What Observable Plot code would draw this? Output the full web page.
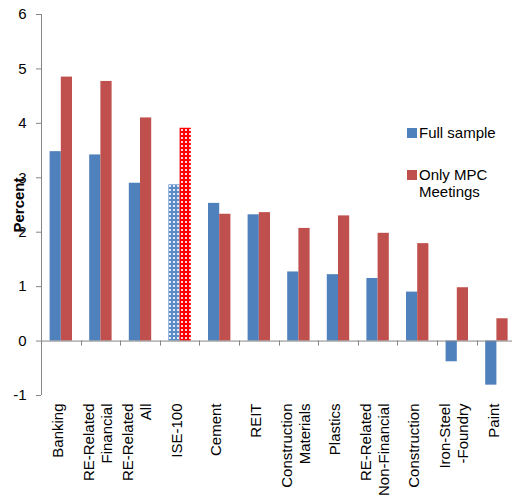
<!DOCTYPE html>
<html>
<head>
<meta charset="utf-8">
<script src="https://cdn.jsdelivr.net/npm/d3@7"></script>
<script src="https://cdn.jsdelivr.net/npm/@observablehq/plot@0.6"></script>
<style>
  html, body { margin: 0; padding: 0; background: #fff; overflow: hidden; }
  #chart { position: relative; width: 512px; height: 499px; overflow: hidden; font-family: "Liberation Sans", Arial, sans-serif; }
  #chart svg { display: block; }
  .legend { position: absolute; left: 407px; font-size: 15px; color: #000; line-height: 16.5px; }
  .legend .swatch { position: absolute; left: 0; width: 10px; height: 10px; }
  .legend .label { position: absolute; left: 12px; white-space: nowrap; }
</style>
</head>
<body>
<div id="chart"></div>
<script>
// Sectors, in the order they are plotted
const categories = [
  "Banking",
  "RE-Related\nFinancial",
  "RE-Related\nAll",
  "ISE-100",
  "Cement",
  "REIT",
  "Construction\nMaterials",
  "Plastics",
  "RE-Related\nNon-Financial",
  "Construction",
  "Iron-Steel\n-Foundry",
  "Paint"
];
// Response in percent, full sample
const fullSample = [3.48, 3.42, 2.90, 2.87, 2.53, 2.32, 1.27, 1.22, 1.15, 0.90, -0.38, -0.81];
// Response in percent, MPC meeting days only
const mpcOnly = [4.85, 4.77, 4.10, 3.91, 2.33, 2.36, 2.07, 2.30, 1.98, 1.79, 0.98, 0.41];
// Value axis ticks
const yTicks = [-1, 0, 1, 2, 3, 4, 5, 6];
// Series names
const seriesNames = ["Full sample", "Only MPC\nMeetings"];
// The market index is drawn with a dotted fill
const highlighted = "ISE-100";

const blue = "#4F81BD";
const red = "#C0504D";
const axisGray = "#868686";

const rows = categories.map((cat, i) => ({cat, full: fullSample[i], mpc: mpcOnly[i]}));

const bandStep = 39.6;
const plotLeft = 41;
// blue bar sits left of band centre, red bar right of it
const barOuter = 8.6;
const half = bandStep / 2;

// axis lines and category separator ticks, placed through the scales
function axisLines(index, scales) {
  const g = d3.create("svg:g").attr("stroke", axisGray).attr("stroke-width", 1);
  const [y0, y1] = [scales.y(yTicks[0]), scales.y(yTicks[yTicks.length - 1])];
  const x0 = scales.x(categories[0]);
  g.append("line").attr("x1", x0 + 0.5).attr("x2", x0 + 0.5).attr("y1", y1).attr("y2", y0);
  const zero = scales.y(0);
  const step = scales.x(categories[1]) - scales.x(categories[0]);
  const bounds = categories.map(c => scales.x(c)).concat([scales.x(categories[categories.length - 1]) + step]);
  for (const b of bounds.slice(1)) {
    const bx = Math.round(b) + 0.5;
    g.append("line").attr("x1", bx).attr("x2", bx).attr("y1", zero).attr("y2", zero + 5);
  }
  return g.node();
}

const plot = Plot.plot({
  width: 512,
  height: 499,
  marginTop: 14,
  marginBottom: 104,
  marginLeft: plotLeft,
  marginRight: 0,
  style: {fontFamily: "'Liberation Sans', Arial, sans-serif", fontSize: "15px", background: "#fff", color: "#000", overflow: "visible"},
  x: {type: "band", domain: categories, range: [plotLeft, plotLeft + bandStep * categories.length], padding: 0, round: false, axis: null},
  y: {domain: [-1, 6], axis: null},
  marks: [
    Plot.barY(rows, {filter: d => d.cat !== highlighted, x: "cat", y: "full", fill: blue, insetLeft: barOuter, insetRight: half}),
    Plot.barY(rows, {filter: d => d.cat !== highlighted, x: "cat", y: "mpc", fill: red, insetLeft: half, insetRight: barOuter}),
    Plot.barY(rows, {filter: d => d.cat === highlighted, x: "cat", y: "full", fill: "url(#dotsBlue)", insetLeft: barOuter, insetRight: half}),
    Plot.barY(rows, {filter: d => d.cat === highlighted, x: "cat", y: "mpc", fill: "url(#dotsRed)", insetLeft: half, insetRight: barOuter}),
    Plot.ruleY([0], {stroke: axisGray}),
    axisLines,
    Plot.axisY({ticks: yTicks, tickFormat: d => String(d), tickSize: 5, tickPadding: 10, stroke: axisGray, fill: "#000", fontSize: 15, label: null}),
    Plot.text(categories, {x: d => d, frameAnchor: "bottom", dx: -4, dy: 8, rotate: -90, textAnchor: "end", lineAnchor: "middle", lineHeight: 1.2, fontSize: 15, fill: "#000"}),
    Plot.text(["Percent"], {frameAnchor: "left", dx: -22, rotate: -90, textAnchor: "middle", fontWeight: "bold", fontSize: 15, fill: "#000"})
  ]
});

// dotted fills for the highlighted pair
const defs = d3.select(plot).insert("defs", ":first-child");
function dots(id, base, dot) {
  const p = defs.append("pattern").attr("id", id).attr("patternUnits", "userSpaceOnUse")
    .attr("width", 4).attr("height", 4);
  p.append("rect").attr("width", 4).attr("height", 4).attr("fill", base);
  p.append("rect").attr("x", 1).attr("y", 1).attr("width", 2).attr("height", 2).attr("fill", dot);
}
dots("dotsBlue", "#5b8cc6", "#e3ecf7");
dots("dotsRed", "#ff0000", "#ffd6d6");

const chart = document.getElementById("chart");
chart.appendChild(plot);

// legend
const legendItems = [
  {name: seriesNames[0], color: blue, top: 125},
  {name: seriesNames[1], color: red, top: 167}
];
for (const item of legendItems) {
  const div = document.createElement("div");
  div.className = "legend";
  div.style.top = item.top + "px";
  const sw = document.createElement("div");
  sw.className = "swatch";
  sw.style.background = item.color;
  sw.style.top = "3px";
  const lab = document.createElement("div");
  lab.className = "label";
  lab.style.top = "0px";
  lab.innerHTML = item.name.split("\n").join("<br>");
  div.appendChild(sw);
  div.appendChild(lab);
  chart.appendChild(div);
}
</script>
</body>
</html>
